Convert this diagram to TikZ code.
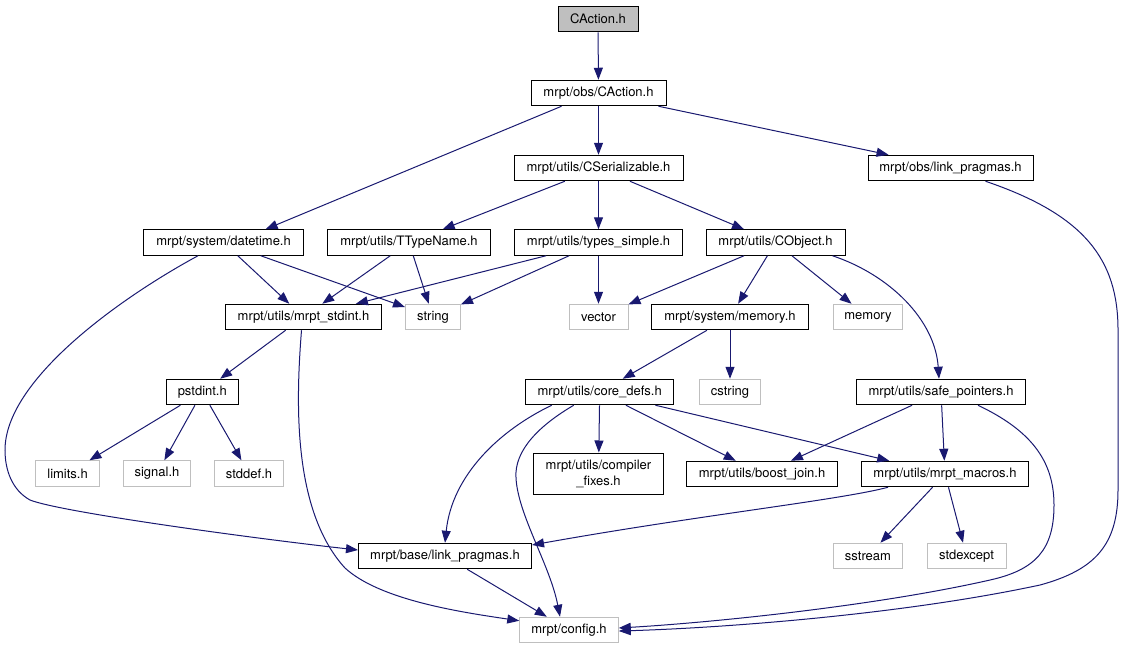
\documentclass[tikz,border=0pt]{standalone}
\usepackage{fontspec}
\setmainfont{TeX Gyre Heros}
\usetikzlibrary{arrows.meta}
\definecolor{edgec}{HTML}{191970}
\definecolor{grayb}{HTML}{BFBFBF}
\begin{document}
\begin{tikzpicture}[x=1pt,y=-1pt,
 box/.style={draw=black,line width=1pt,inner sep=0pt,minimum height=25.5pt,font=\fontsize{13}{16}\selectfont,text=black},
 sysbox/.style={box,draw=grayb},
 rootbox/.style={box,fill=grayb},
 e/.style={draw=edgec,line width=1pt,-{Triangle[length=12pt,width=9pt]},color=edgec}]
\useasboundingbox (0,0) rectangle (1123,649);
% nodes
\node[rootbox,minimum width=80pt] (root) at (598,19) {CAction.h};
\node[box,minimum width=135pt] (oca) at (598.5,93) {mrpt/obs/CAction.h};
\node[box,minimum width=169pt] (cser) at (598.5,168) {mrpt/utils/CSerializable.h};
\node[box,minimum width=165pt] (olp) at (950.5,168) {mrpt/obs/link\_pragmas.h};
\node[box,minimum width=160pt] (dt) at (223.6,242.5) {mrpt/system/datetime.h};
\node[box,minimum width=162.5pt] (ttn) at (409,242.5) {mrpt/utils/TTypeName.h};
\node[box,minimum width=168pt] (ts) at (598.5,242.5) {mrpt/utils/types\_simple.h};
\node[box,minimum width=139pt] (cobj) at (775.5,242.5) {mrpt/utils/CObject.h};
\node[box,minimum width=156pt] (stdint) at (303.5,317) {mrpt/utils/mrpt\_stdint.h};
\node[sysbox,minimum width=55pt] (string) at (433,317) {string};
\node[sysbox,minimum width=59pt] (vector) at (598.5,317) {vector};
\node[box,minimum width=157pt] (smem) at (730,317) {mrpt/system/memory.h};
\node[sysbox,minimum width=69pt] (memory) at (868,317) {memory};
\node[box,minimum width=72pt] (pstdint) at (202.3,392) {pstdint.h};
\node[box,minimum width=148pt] (core) at (599.7,392) {mrpt/utils/core\_defs.h};
\node[sysbox,minimum width=61.6pt] (cstring) at (730,392) {cstring};
\node[box,minimum width=169pt] (safe) at (941,392) {mrpt/utils/safe\_pointers.h};
\node[sysbox,minimum width=64pt] (limits) at (67.6,473.5) {limits.h};
\node[sysbox,minimum width=67pt] (signal) at (157,473.5) {signal.h};
\node[sysbox,minimum width=69pt] (stddef) at (249,473.5) {stddef.h};
\node[box,minimum width=129.5pt,minimum height=41pt,align=center] (cfix) at (598.5,473.5) {mrpt/utils/compiler\\\_fixes.h};
\node[box,minimum width=151pt] (boost) at (762,474) {mrpt/utils/boost\_join.h};
\node[box,minimum width=167pt] (macros) at (945,474) {mrpt/utils/mrpt\_macros.h};
\node[box,minimum width=173pt] (blp) at (445,556) {mrpt/base/link\_pragmas.h};
\node[sysbox,minimum width=69.5pt] (sstream) at (868,556) {sstream};
\node[sysbox,minimum width=79pt] (stdexcept) at (966.5,556) {stdexcept};
\node[sysbox,minimum width=98.5pt] (config) at (569,630) {mrpt/config.h};
% edges
\draw[e] (root) -- (oca);
\draw[e] ([xshift=-37pt]oca.south) -- ([xshift=42pt]dt.north);
\draw[e] (oca) -- (cser);
\draw[e] ([xshift=60pt]oca.south) -- ([xshift=-62pt]olp.north);
\draw[e] ([xshift=35pt]olp.south) .. controls (1085,215) and (1118,260) .. (1118,330) -- (1118,490) .. controls (1118,545) and (1095,570) .. (1040,585) .. controls (900,615) and (720,628) .. ([yshift=-1pt]config.east);
\draw[e] (cser) -- (ttn);
\draw[e] (cser) -- (ts);
\draw[e] (cser) -- (cobj);
\draw[e] (dt) -- (stdint);
\draw[e] (dt) -- (string);
\draw[e] ([xshift=-25.6pt]dt.south) .. controls (120,298) and (5,380) .. (5,450) .. controls (5,470) and (12,490) .. (30,500) .. controls (60,512) and (250,538) .. ([yshift=6pt]blp.west);
\draw[e] (ttn) -- (stdint);
\draw[e] (ttn) -- (string);
\draw[e] (ts) -- (stdint);
\draw[e] (ts) -- (string);
\draw[e] (ts) -- (vector);
\draw[e] (cobj) -- (vector);
\draw[e] (cobj) -- (smem);
\draw[e] (cobj) -- (memory);
\draw[e] ([xshift=57pt]cobj.south) .. controls (890,275) and (935,320) .. ([xshift=-2pt]safe.north);
\draw[e] (stdint) -- (pstdint);
\draw[e] ([xshift=-2pt]stdint.south) .. controls (296,400) and (292,510) .. (345,568) .. controls (380,600) and (460,612) .. ([yshift=-4pt]config.north west);
\draw[e] (pstdint) -- (limits);
\draw[e] (pstdint) -- (signal);
\draw[e] (pstdint) -- (stddef);
\draw[e] (smem) -- (core);
\draw[e] (smem) -- (cstring);
\draw[e] ([xshift=-48pt]core.south) .. controls (500,430) and (452,475) .. (blp.north);
\draw[e] ([xshift=-26pt]core.south) .. controls (540,425) and (514,450) .. (516,478) .. controls (518,515) and (550,565) .. ([xshift=-9pt]config.north);
\draw[e] (core) -- (cfix);
\draw[e] (core) -- (boost);
\draw[e] (core) -- (macros);
\draw[e] (safe) -- (boost);
\draw[e] (safe) -- (macros);
\draw[e] ([xshift=37pt]safe.south) .. controls (1030,430) and (1054,460) .. (1054,505) .. controls (1054,550) and (1035,570) .. (990,580) .. controls (880,605) and (720,622) .. ([yshift=2pt]config.east);
\draw[e] ([xshift=-57pt]macros.south) .. controls (840,500) and (700,515) .. ([yshift=11pt]blp.east);
\draw[e] (macros) -- (sstream);
\draw[e] (macros) -- (stdexcept);
\draw[e] (blp) -- (config);
\end{tikzpicture}
\end{document}
